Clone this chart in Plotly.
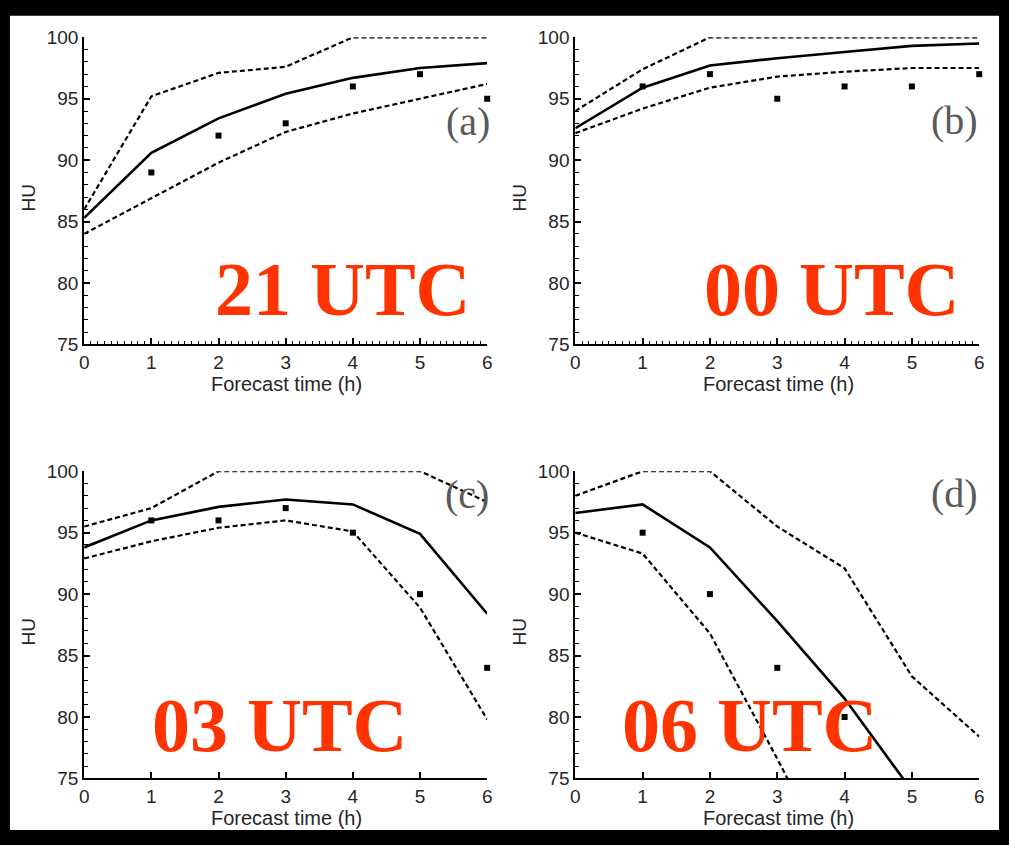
import plotly.graph_objects as go

W, H = 1009, 845

hours = [0, 1, 2, 3, 4, 5, 6]

# (a) 21 UTC
a_upper = [86.0, 95.2, 97.1, 97.6, 100.0, 100.0, 100.0]
a_mean = [85.3, 90.6, 93.4, 95.4, 96.7, 97.5, 97.9]
a_lower = [84.0, 86.9, 89.8, 92.3, 93.8, 95.0, 96.2]
a_obs = [None, 89, 92, 93, 96, 97, 95]

# (b) 00 UTC
b_upper = [94.0, 97.4, 100.0, 100.0, 100.0, 100.0, 100.0]
b_mean = [92.6, 95.9, 97.7, 98.3, 98.8, 99.3, 99.5]
b_lower = [92.2, 94.2, 95.9, 96.8, 97.2, 97.5, 97.5]
b_obs = [None, 96, 97, 95, 96, 96, 97]

# (c) 03 UTC
c_upper = [95.5, 97.0, 100.0, 100.0, 100.0, 100.0, 97.5]
c_mean = [93.8, 96.0, 97.1, 97.7, 97.3, 94.9, 88.4]
c_lower = [92.9, 94.3, 95.4, 96.0, 95.1, 88.9, 79.8]
c_obs = [None, 96, 96, 97, 95, 90, 84]

# (d) 06 UTC
d_upper = [98.0, 100.0, 100.0, 95.5, 92.1, 83.3, 78.4]
d_mean = [96.6, 97.3, 93.8, 87.8, 81.5, 74.0, None]
d_lower = [95.0, 93.3, 86.8, 76.6, 66.0, None, None]
d_obs = [None, 95, 90, 84, 80, None, None]

panel_tags = ["(a)", "(b)", "(c)", "(d)"]
run_labels = ["21 UTC", "00 UTC", "03 UTC", "06 UTC"]
y_ticks = [75, 80, 85, 90, 95, 100]
x_ticks = hours

panels = [
    (a_upper, a_mean, a_lower, a_obs),
    (b_upper, b_mean, b_lower, b_obs),
    (c_upper, c_mean, c_lower, c_obs),
    (d_upper, d_mean, d_lower, d_obs),
]


def px(x):
    return x / W


def py(y):
    return 1 - y / H


# plot-area boxes in pixels: (left, right, top, bottom)
boxes = [
    (80, 487, 28, 343),
    (576, 984, 28, 343),
    (80, 487, 473, 788),
    (576, 984, 473, 788),
]
tag_centres = [(468, 114), (959, 113), (467, 497), (959, 496)]
run_centres = [(341, 286), (835, 286), (277, 733), (752, 733)]

TICK_FONT = dict(family="Liberation Sans", size=19, color="#262626")

fig = go.Figure()
layout = {}
annotations = []

for i, ((up, mean, low, obs), (l, r, t, b)) in enumerate(zip(panels, boxes)):
    n = i + 1
    xa = "x" if n == 1 else f"x{n}"
    ya = "y" if n == 1 else f"y{n}"
    dash_style = dict(color="black", width=2.2, dash="5px,3px")
    fig.add_trace(go.Scatter(x=hours, y=up, mode="lines", line=dash_style,
                             xaxis=xa, yaxis=ya, showlegend=False))
    fig.add_trace(go.Scatter(x=hours, y=low, mode="lines", line=dash_style,
                             xaxis=xa, yaxis=ya, showlegend=False))
    fig.add_trace(go.Scatter(x=hours, y=mean, mode="lines",
                             line=dict(color="black", width=2.6),
                             xaxis=xa, yaxis=ya, showlegend=False))
    fig.add_trace(go.Scatter(x=hours, y=obs, mode="markers",
                             marker=dict(symbol="square", size=6, color="black"),
                             xaxis=xa, yaxis=ya, showlegend=False,
                             cliponaxis=False))

    top_row = i < 2
    xaxis = dict(
        domain=[px(l), px(r)], range=[0, 6], anchor=ya,
        tickmode="array", tickvals=x_ticks,
        showline=True, linecolor="black", linewidth=2,
        ticks="inside", ticklen=6, tickwidth=1.5, tickcolor="black",
        showgrid=False, zeroline=False,
        tickfont=TICK_FONT,
    )
    if top_row:
        xaxis["minor"] = dict(ticks="inside", ticklen=3, tickwidth=1,
                              tickcolor="black", dtick=0.1, tick0=0,
                              showgrid=False)
    yaxis = dict(
        domain=[py(b), py(t)], range=[75, 100], anchor=xa,
        tickmode="array", tickvals=y_ticks,
        showline=True, linecolor="black", linewidth=2,
        ticks="inside", ticklen=6, tickwidth=1.5, tickcolor="black",
        showgrid=False, zeroline=False,
        tickfont=TICK_FONT,
        minor=dict(ticks="inside", ticklen=4, tickwidth=1, tickcolor="black",
                   dtick=1, tick0=75, showgrid=False),
    )
    layout["xaxis" if n == 1 else f"xaxis{n}"] = xaxis
    layout["yaxis" if n == 1 else f"yaxis{n}"] = yaxis

    cx = (l + r) / 2
    # x-axis title
    annotations.append(dict(
        text="Forecast time (h)", x=px(cx + 1), y=py(b + 41), xref="paper", yref="paper",
        showarrow=False, xanchor="center", yanchor="middle",
        font=dict(family="Liberation Sans", size=20, color="#262626")))
    # y-axis title
    annotations.append(dict(
        text="HU", x=px(l - 56), y=py((t + b) / 2 + 7),
        xref="paper", yref="paper", textangle=-90,
        showarrow=False, xanchor="center", yanchor="middle",
        font=dict(family="Liberation Sans", size=19, color="#262626")))
    # panel tag
    annotations.append(dict(
        text=panel_tags[i], x=px(tag_centres[i][0]), y=py(tag_centres[i][1]),
        xref="paper", yref="paper", showarrow=False,
        xanchor="center", yanchor="middle",
        font=dict(family="Liberation Serif", size=40, color="#5a5a5a")))
    # forecast run label
    annotations.append(dict(
        text="<b>" + run_labels[i] + "</b>", x=px(run_centres[i][0]), y=py(run_centres[i][1]),
        xref="paper", yref="paper", showarrow=False,
        xanchor="center", yanchor="middle",
        font=dict(family="Liberation Serif", size=76, color="#ff3300")))

fig.update_layout(
    width=W, height=H,
    margin=dict(l=0, r=0, t=0, b=0),
    paper_bgcolor="black",
    plot_bgcolor="white",
    annotations=annotations,
    shapes=[dict(type="rect", xref="paper", yref="paper",
                 x0=px(5), x1=px(1004), y0=py(841), y1=py(6),
                 fillcolor="white", line=dict(width=0), layer="below")],
    **layout,
)

fig.write_html("out.html")
